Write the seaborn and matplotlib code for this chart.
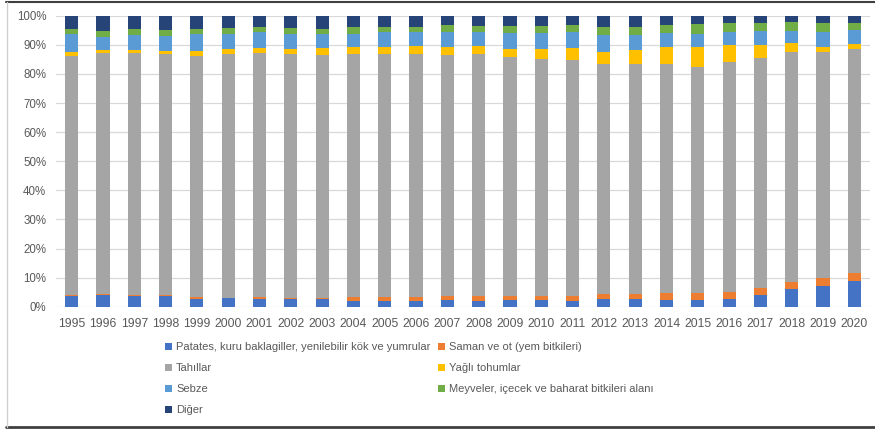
import matplotlib
matplotlib.use("Agg")
import matplotlib.pyplot as plt
from matplotlib.patches import Patch
from matplotlib.lines import Line2D
import seaborn as sns
import pandas as pd
import numpy as np

years = [str(y) for y in range(1995, 2021)]

patates = [3.8, 4.1, 3.6, 3.6, 2.8, 2.9, 2.8, 2.8, 2.5, 2.0, 2.0, 2.0, 2.3, 2.0, 2.3, 2.3, 2.1, 2.5, 2.5, 2.3, 2.3, 2.5, 4.1, 6.1, 7.0, 8.8]
saman = [0.3, 0.4, 0.4, 0.4, 0.4, 0.2, 0.4, 0.2, 0.6, 1.2, 1.2, 1.4, 1.5, 1.8, 1.5, 1.5, 1.7, 1.7, 1.7, 2.4, 2.4, 2.4, 2.2, 2.4, 2.7, 2.9]
tahillar = [82.2, 82.7, 83.2, 82.9, 83.1, 83.6, 84.1, 83.7, 83.5, 83.7, 83.7, 83.5, 82.7, 83.1, 82.0, 81.3, 81.0, 79.1, 79.1, 78.6, 77.5, 79.2, 79.3, 79.1, 77.9, 77.0]
yagli = [1.3, 0.9, 1.0, 1.1, 1.6, 2.0, 1.7, 2.0, 2.2, 2.2, 2.3, 2.7, 2.7, 2.7, 2.7, 3.4, 4.0, 4.3, 5.0, 5.8, 6.9, 5.7, 4.2, 3.0, 1.7, 1.7]
sebze = [6.0, 4.7, 5.2, 5.1, 5.7, 5.1, 5.3, 4.9, 4.8, 4.7, 5.1, 4.7, 5.3, 4.9, 5.5, 5.5, 5.5, 5.8, 5.1, 4.9, 4.7, 4.7, 4.9, 4.1, 5.0, 4.6]
meyve = [1.7, 1.8, 1.9, 2.1, 1.8, 2.0, 1.7, 2.2, 1.8, 2.2, 1.7, 1.7, 2.2, 1.9, 2.4, 2.4, 2.4, 2.8, 2.8, 2.9, 3.3, 3.1, 2.9, 3.1, 3.3, 2.6]
diger = [4.7, 5.4, 4.7, 4.8, 4.6, 4.2, 4.0, 4.2, 4.6, 4.0, 4.0, 4.0, 3.3, 3.6, 3.6, 3.6, 3.3, 3.8, 3.8, 3.1, 2.9, 2.4, 2.4, 2.2, 2.4, 2.4]

series_names = [
    "Patates, kuru baklagiller, yenilebilir kök ve yumrular",
    "Saman ve ot (yem bitkileri)",
    "Tahıllar",
    "Yağlı tohumlar",
    "Sebze",
    "Meyveler, içecek ve baharat bitkileri alanı",
    "Diğer",
]
series_values = [patates, saman, tahillar, yagli, sebze, meyve, diger]
colors = ["#4472C4", "#ED7D31", "#A5A5A5", "#FFC000", "#5B9BD5", "#70AD47", "#264478"]

sns.set_theme(style="white")
plt.rcParams["font.family"] = ["Liberation Sans", "DejaVu Sans"]

fig = plt.figure(figsize=(8.75, 4.30), dpi=100)
ax = fig.add_axes([56 / 875, 1 - 306.7 / 430, (870 - 56) / 875, (306.7 - 15.7) / 430])

# stacked shares: draw cumulative totals from the top series down
vals = np.array(series_values) / 100.0
cum = np.cumsum(vals, axis=0)
for i in range(len(series_names) - 1, -1, -1):
    df = pd.DataFrame({"year": years, "value": cum[i]})
    sns.barplot(data=df, x="year", y="value", color=colors[i], saturation=1,
                width=0.42, errorbar=None, linewidth=0, ax=ax, zorder=3)

ax.set_xlim(-0.5, len(years) - 0.5)
ax.set_ylim(0, 1)
ax.set_yticks(np.arange(0, 1.01, 0.1))
ax.set_yticklabels([f"{int(round(t * 100))}%" for t in np.arange(0, 1.01, 0.1)])
ax.yaxis.grid(True, color="#D9D9D9", linewidth=0.9, zorder=0)
ax.set_axisbelow(True)
for s in ax.spines.values():
    s.set_visible(False)
ax.set_xlabel("")
ax.set_ylabel("")
ax.tick_params(axis="both", length=0, labelsize=8.3, labelcolor="#595959")
ax.tick_params(axis="x", labelsize=8.8)
ax.tick_params(axis="y", pad=7)
ax.tick_params(axis="x", pad=8)

# legend, row-wise order in two columns
order = [0, 2, 4, 6, 1, 3, 5]
handles = [Patch(facecolor=colors[i], edgecolor="none") for i in order]
labels = [series_names[i] for i in order]
fig.legend(handles, labels, loc="upper left", bbox_to_anchor=(165 / 875, 1 - 342 / 430),
           ncol=2, frameon=False, fontsize=8, labelcolor="#595959",
           handlelength=0.6, handleheight=0.6, handletextpad=0.4,
           columnspacing=0.7, labelspacing=1.0, borderpad=0, borderaxespad=0)

# outer frame lines
fig.add_artist(Line2D([6 / 875, 1], [1 - 1.5 / 430, 1 - 1.5 / 430], transform=fig.transFigure,
                      color="#404040", linewidth=1.5))
fig.add_artist(Line2D([6 / 875, 1], [1 - 427 / 430, 1 - 427 / 430], transform=fig.transFigure,
                      color="#404040", linewidth=2))
fig.add_artist(Line2D([6.5 / 875, 6.5 / 875], [1 - 427 / 430, 1 - 1.5 / 430], transform=fig.transFigure,
                      color="#D0D0D0", linewidth=1))

fig.savefig("out.png", dpi=100)
